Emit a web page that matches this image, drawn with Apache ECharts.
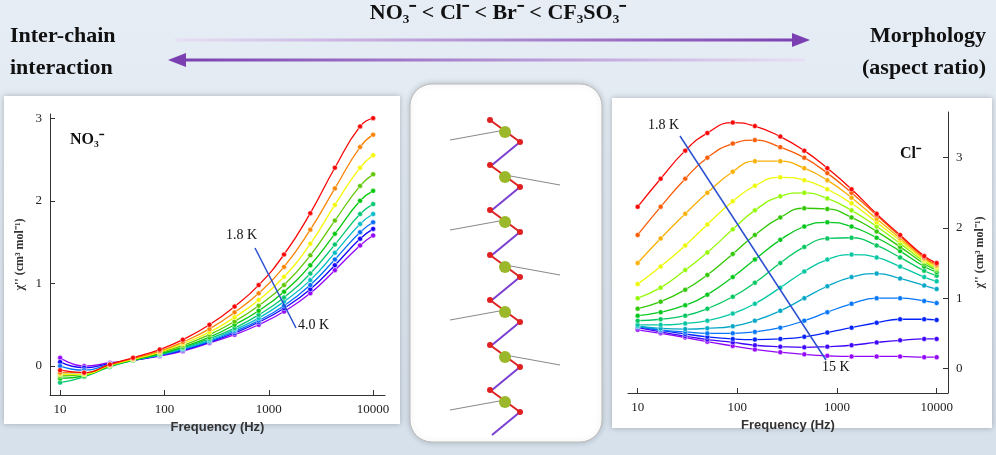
<!DOCTYPE html>
<html>
<head>
<meta charset="utf-8">
<script src="https://cdn.jsdelivr.net/npm/echarts@6/dist/echarts.min.js"></script>
<style>html,body{margin:0;padding:0;background:#dfe8f1;}#c{width:996px;height:455px;}</style>
</head>
<body>
<div id="c"></div>
<script>
var freq = [10, 17, 30, 50, 90, 150, 270, 470, 800, 1400, 2500, 4300, 7500, 10000];

// NO3- : 1.8 K (red) -> 4.0 K (violet)
var no3Curves = [
    [-0.05, -0.08, 0.02, 0.10, 0.20, 0.32, 0.50, 0.72, 0.98, 1.35, 1.85, 2.40, 2.90, 3.00],
    [-0.08, -0.08, 0.02, 0.09, 0.18, 0.29, 0.45, 0.65, 0.88, 1.20, 1.65, 2.15, 2.65, 2.80],
    [-0.10, -0.10, 0.01, 0.08, 0.17, 0.27, 0.41, 0.59, 0.80, 1.08, 1.48, 1.95, 2.40, 2.55],
    [-0.12, -0.10, 0.00, 0.08, 0.16, 0.25, 0.38, 0.54, 0.73, 0.98, 1.34, 1.76, 2.18, 2.32],
    [-0.15, -0.12, 0.00, 0.07, 0.15, 0.23, 0.35, 0.50, 0.67, 0.90, 1.22, 1.60, 2.00, 2.12],
    [-0.20, -0.13, -0.01, 0.07, 0.14, 0.22, 0.33, 0.46, 0.62, 0.83, 1.12, 1.47, 1.84, 1.96],
    [-0.10, -0.10, 0.00, 0.07, 0.14, 0.21, 0.31, 0.44, 0.58, 0.78, 1.04, 1.37, 1.72, 1.84],
    [0.00, -0.05, 0.02, 0.07, 0.13, 0.20, 0.30, 0.42, 0.55, 0.73, 0.98, 1.29, 1.62, 1.74],
    [0.05, -0.02, 0.03, 0.07, 0.13, 0.19, 0.29, 0.40, 0.53, 0.70, 0.93, 1.22, 1.54, 1.66],
    [0.10, 0.00, 0.04, 0.07, 0.12, 0.18, 0.28, 0.38, 0.50, 0.66, 0.88, 1.16, 1.46, 1.58]
];

// Cl- : 1.8 K (red) -> 15 K (violet)
var clCurves = [
    [2.30, 2.70, 3.10, 3.35, 3.50, 3.45, 3.30, 3.10, 2.85, 2.55, 2.20, 1.90, 1.60, 1.50],
    [1.90, 2.30, 2.70, 3.00, 3.20, 3.25, 3.15, 3.00, 2.78, 2.50, 2.18, 1.88, 1.58, 1.48],
    [1.50, 1.85, 2.20, 2.50, 2.80, 2.95, 2.95, 2.85, 2.68, 2.43, 2.13, 1.85, 1.56, 1.46],
    [1.20, 1.45, 1.75, 2.05, 2.38, 2.60, 2.72, 2.68, 2.55, 2.35, 2.08, 1.82, 1.54, 1.44],
    [1.00, 1.15, 1.40, 1.65, 1.98, 2.25, 2.45, 2.50, 2.42, 2.25, 2.02, 1.78, 1.52, 1.42],
    [0.85, 0.95, 1.12, 1.33, 1.63, 1.90, 2.15, 2.28, 2.27, 2.15, 1.95, 1.73, 1.49, 1.40],
    [0.75, 0.80, 0.90, 1.05, 1.30, 1.55, 1.83, 2.02, 2.08, 2.02, 1.86, 1.67, 1.45, 1.37],
    [0.68, 0.70, 0.75, 0.85, 1.02, 1.22, 1.50, 1.73, 1.85, 1.86, 1.75, 1.58, 1.39, 1.32],
    [0.62, 0.62, 0.64, 0.68, 0.78, 0.92, 1.15, 1.38, 1.55, 1.62, 1.58, 1.45, 1.30, 1.24],
    [0.60, 0.57, 0.56, 0.57, 0.60, 0.68, 0.82, 1.00, 1.17, 1.30, 1.35, 1.28, 1.18, 1.13],
    [0.60, 0.55, 0.52, 0.50, 0.50, 0.52, 0.58, 0.68, 0.80, 0.92, 1.00, 1.00, 0.96, 0.93],
    [0.60, 0.54, 0.49, 0.45, 0.42, 0.41, 0.42, 0.45, 0.51, 0.58, 0.65, 0.70, 0.70, 0.69],
    [0.58, 0.52, 0.46, 0.41, 0.37, 0.33, 0.31, 0.30, 0.31, 0.33, 0.37, 0.40, 0.42, 0.42],
    [0.55, 0.50, 0.44, 0.38, 0.32, 0.27, 0.23, 0.20, 0.18, 0.17, 0.17, 0.17, 0.16, 0.16]
];

var xTicks = [10, 100, 1000, 10000];
var no3Ticks = [0, 1, 2, 3];
var clTicks = [0, 1, 2, 3];

var chart = echarts.init(document.getElementById('c'));
var serif = 'Liberation Serif';

function rainbow(i, n) {
    var h = Math.round(i / (n - 1) * 275);
    return 'hsl(' + h + ',95%,' + (h > 90 && h < 200 ? 40 : 50) + '%)';
}

function makeSeries(curves, idx) {
    return curves.map(function (c, i) {
        var col = rainbow(i, curves.length);
        return {
            type: 'line', xAxisIndex: idx, yAxisIndex: idx,
            data: freq.map(function (f, k) { return [f, c[k]]; }),
            symbol: 'circle', symbolSize: 5, smooth: true,
            lineStyle: {width: 1.3, color: col},
            itemStyle: {color: col, borderColor: '#fff', borderWidth: 0.5},
            z: 10 + curves.length - i
        };
    });
}

var axisLine = {show: true, onZero: false, lineStyle: {color: '#333', width: 1}};
function xAxis(idx) {
    return {
        type: 'log', gridIndex: idx, min: 8, max: 13000, logBase: 10,
        axisLine: axisLine, splitLine: {show: false},
        axisTick: {customValues: xTicks, inside: true},
        minorTick: {show: false},
        axisLabel: {customValues: xTicks, formatter: function (v) { return String(Math.round(v)); },
            color: '#222', fontFamily: serif, fontSize: 13},
        name: 'Frequency (Hz)', nameLocation: 'middle', nameGap: 22,
        nameTextStyle: {fontFamily: 'Liberation Sans', fontWeight: 'bold', fontSize: 13, color: '#333'}
    };
}

// a chain of atoms for the middle panel (decorative)
var chain = [];
for (var i = 0; i < 7; i++) {
    var y = 120 + i * 45;
    chain.push({type: 'line', shape: {x1: 490, y1: y, x2: 520, y2: y + 22}, style: {stroke: '#d22', lineWidth: 2}});
    chain.push({type: 'line', shape: {x1: 520, y1: y + 22, x2: 492, y2: y + 45}, style: {stroke: '#7a3fd0', lineWidth: 2}});
    chain.push({type: 'line', shape: {x1: 505, y1: y + 10, x2: 450 + (i % 2) * 110, y2: y + 20}, style: {stroke: '#888', lineWidth: 1}});
    chain.push({type: 'circle', shape: {cx: 505, cy: y + 12, r: 6}, style: {fill: '#9ab82a'}});
    chain.push({type: 'circle', shape: {cx: 520, cy: y + 22, r: 3}, style: {fill: '#e02020'}});
    chain.push({type: 'circle', shape: {cx: 490, cy: y, r: 3}, style: {fill: '#e02020'}});
}

var option = {
    backgroundColor: new echarts.graphic.LinearGradient(0, 0, 0, 1, [
        {offset: 0, color: '#e6edf5'}, {offset: 1, color: '#d6e1ec'}]),
    animation: false,
    grid: [
        {left: 50, right: 611, top: 114, bottom: 60},
        {left: 628, right: 48, top: 112, bottom: 62}
    ],
    xAxis: [xAxis(0), xAxis(1)],
    yAxis: [
        {type: 'value', gridIndex: 0, min: -0.35, max: 3.05,
            axisLine: axisLine, splitLine: {show: false},
            axisTick: {customValues: no3Ticks, inside: true},
            axisLabel: {customValues: no3Ticks, fontFamily: serif, fontSize: 13, color: '#222'},
            name: "χ'' (cm³ mol⁻¹)", nameLocation: 'middle', nameGap: 24, nameRotate: 90,
            nameTextStyle: {fontFamily: serif, fontWeight: 'bold', fontSize: 12, color: '#333'}},
        {type: 'value', gridIndex: 1, position: 'right', min: -0.35, max: 3.65,
            axisLine: axisLine, splitLine: {show: false},
            axisTick: {customValues: clTicks, inside: true},
            axisLabel: {customValues: clTicks, fontFamily: serif, fontSize: 13, color: '#222'},
            name: "χ'' (cm³ mol⁻¹)", nameLocation: 'middle', nameGap: 26, nameRotate: 90,
            nameTextStyle: {fontFamily: serif, fontWeight: 'bold', fontSize: 12, color: '#333'}}
    ],
    series: makeSeries(no3Curves, 0).concat(makeSeries(clCurves, 1)),
    graphic: [
        {type: 'rect', shape: {x: 4, y: 96, width: 396, height: 328}, style: {fill: '#fff', shadowBlur: 6, shadowColor: 'rgba(0,0,0,0.25)'}, z: -10},
        {type: 'rect', shape: {x: 612, y: 98, width: 380, height: 330}, style: {fill: '#fff', shadowBlur: 6, shadowColor: 'rgba(0,0,0,0.25)'}, z: -10},
        {type: 'rect', shape: {x: 410, y: 84, width: 192, height: 358, r: 22}, style: {fill: '#fff', stroke: '#bbb', shadowBlur: 6, shadowColor: 'rgba(0,0,0,0.2)'}, z: -10},
        {type: 'group', children: chain},
        {type: 'text', left: 'center', top: 2, style: {text: 'NO₃⁻ < Cl⁻ < Br⁻ < CF₃SO₃⁻', font: 'bold 22px "Liberation Serif"', fill: '#111'}},
        {type: 'text', x: 10, y: 20, style: {text: 'Inter-chain\ninteraction', font: 'bold 22px "Liberation Serif"', lineHeight: 32, fill: '#111'}},
        {type: 'text', x: 986, y: 20, style: {text: 'Morphology\n(aspect ratio)', font: 'bold 22px "Liberation Serif"', lineHeight: 32, fill: '#111', align: 'right'}},
        {type: 'line', shape: {x1: 175, y1: 40, x2: 800, y2: 40}, style: {stroke: new echarts.graphic.LinearGradient(0, 0, 1, 0, [{offset: 0, color: '#e8e0f4'}, {offset: 1, color: '#7a3fb0'}]), lineWidth: 3}},
        {type: 'polygon', shape: {points: [[810, 40], [792, 33], [792, 47]]}, style: {fill: '#7a3fb0'}},
        {type: 'line', shape: {x1: 180, y1: 60, x2: 805, y2: 60}, style: {stroke: new echarts.graphic.LinearGradient(0, 0, 1, 0, [{offset: 0, color: '#7a3fb0'}, {offset: 1, color: '#e8e0f4'}]), lineWidth: 3}},
        {type: 'polygon', shape: {points: [[168, 60], [186, 53], [186, 67]]}, style: {fill: '#7a3fb0'}},
        {type: 'text', x: 70, y: 132, style: {text: 'NO₃⁻', font: 'bold 16px "Liberation Serif"', fill: '#111'}},
        {type: 'text', x: 900, y: 146, style: {text: 'Cl⁻', font: 'bold 16px "Liberation Serif"', fill: '#111'}},
        {type: 'text', x: 226, y: 228, style: {text: '1.8 K', font: '14px "Liberation Serif"', fill: '#111'}, z: 100},
        {type: 'text', x: 298, y: 318, style: {text: '4.0 K', font: '14px "Liberation Serif"', fill: '#111'}, z: 100},
        {type: 'line', shape: {x1: 255, y1: 248, x2: 296, y2: 328}, style: {stroke: '#2a4fd0', lineWidth: 1.5}, z: 100},
        {type: 'text', x: 648, y: 118, style: {text: '1.8 K', font: '14px "Liberation Serif"', fill: '#111'}, z: 100},
        {type: 'text', x: 822, y: 360, style: {text: '15 K', font: '14px "Liberation Serif"', fill: '#111'}, z: 100},
        {type: 'line', shape: {x1: 680, y1: 136, x2: 826, y2: 360}, style: {stroke: '#2a4fd0', lineWidth: 1.5}, z: 100}
    ]
};
chart.setOption(option);
window.addEventListener('resize', function () { chart.resize(); });
</script>
</body>
</html>
